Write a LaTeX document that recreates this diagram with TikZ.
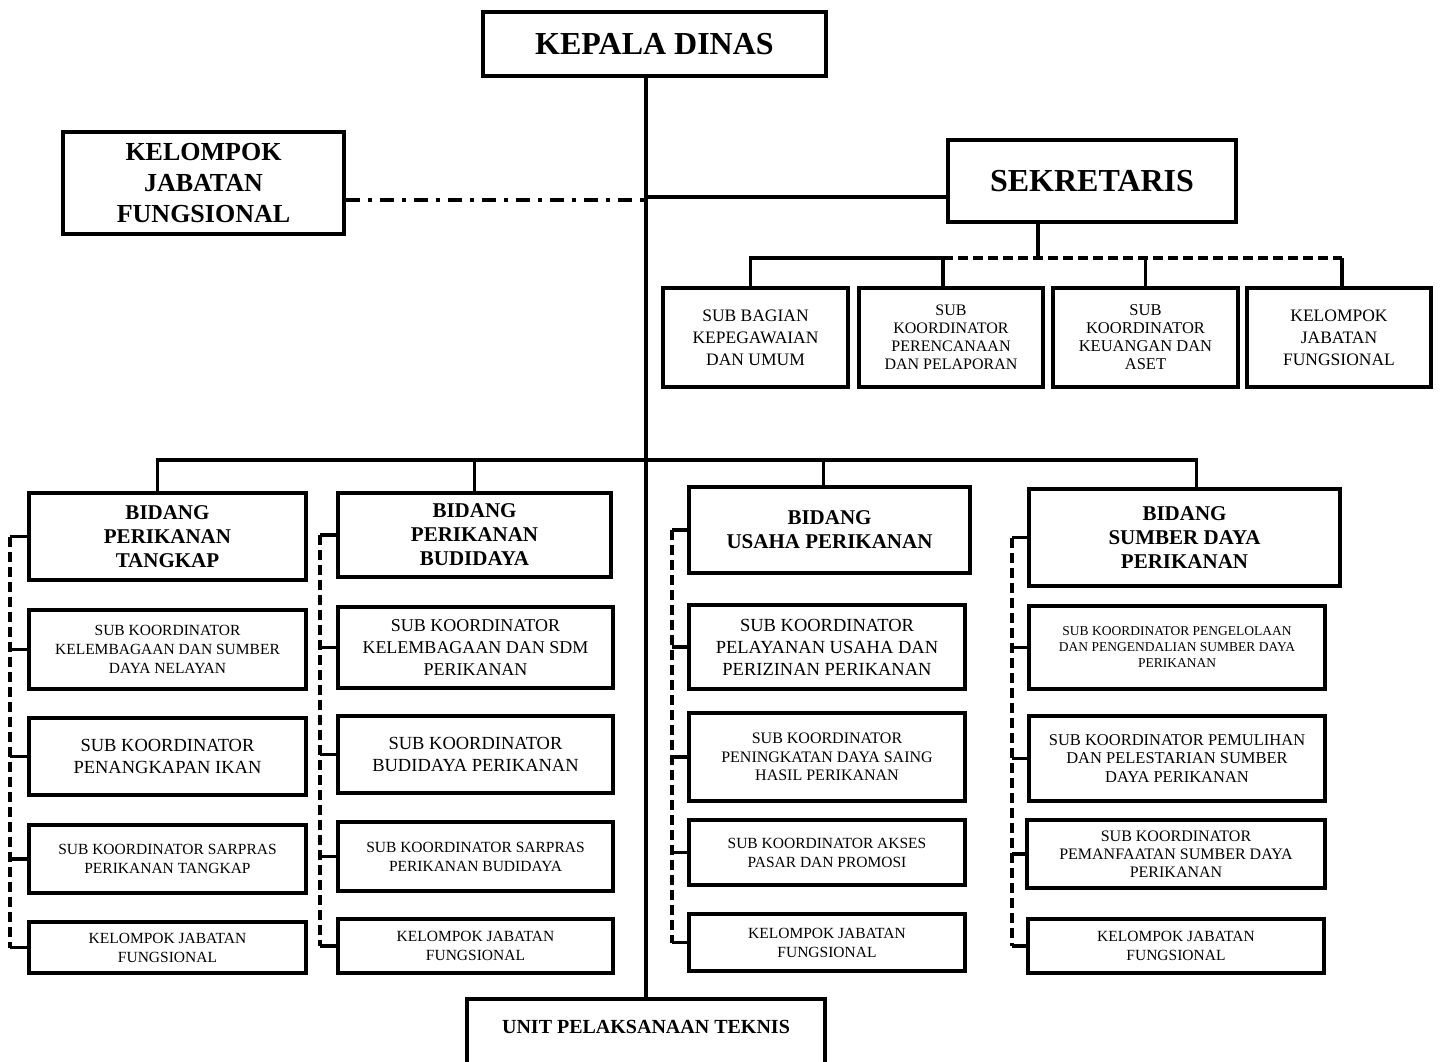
\documentclass[tikz,border=0pt]{standalone}
\usepackage{fontspec}
\setmainfont{Liberation Serif}

\begin{document}
\begin{tikzpicture}[
  x=1pt, y=-1pt,
  box/.style={draw, line width=4.2pt, inner sep=2pt, align=center},
  head/.style={font=\bfseries\fontsize{21}{24}\selectfont},
  sml/.style={font=\fontsize{15.5}{19}\selectfont},
  mid/.style={font=\fontsize{18.5}{22}\selectfont},
  conn/.style={line width=3.5pt},
  rail/.style={line width=3.5pt, dash pattern=on 10pt off 5pt},
  link/.style={line width=3.5pt, dash pattern=on 14pt off 8pt on 4pt off 8pt}
]
  \useasboundingbox (0,0) rectangle (1442,1062);

  % top level
  \node[box, minimum width=343pt, minimum height=64pt, font=\bfseries\fontsize{32}{36}\selectfont] (kd) at (654.5,44) {KEPALA DINAS};
  \node[box, minimum width=281pt, minimum height=102pt, font=\bfseries\fontsize{26}{31}\selectfont] (kjf) at (203.5,183) {KELOMPOK\\JABATAN\\FUNGSIONAL};
  \node[box, minimum width=288pt, minimum height=82pt, font=\bfseries\fontsize{32}{36}\selectfont] (sek) at (1092,181) {SEKRETARIS};
  \node[box, anchor=north, minimum width=358pt, minimum height=90pt, inner sep=0pt, text height=14pt, text depth=36pt, font=\bfseries\fontsize{20}{24}\selectfont] (upt) at (646,997) {UNIT PELAKSANAAN TEKNIS};

  % sekretariat
  \node[box, minimum width=185pt, minimum height=99pt, font=\fontsize{17.5}{22}\selectfont] (sb1) at (755.5,337.5) {SUB BAGIAN\\KEPEGAWAIAN\\DAN UMUM};
  \node[box, minimum width=184pt, minimum height=99pt, font=\fontsize{16}{18}\selectfont] (sb2) at (951,337.5) {SUB\\KOORDINATOR\\PERENCANAAN\\DAN PELAPORAN};
  \node[box, minimum width=185pt, minimum height=99pt, font=\fontsize{16.5}{18}\selectfont] (sb3) at (1145.5,337.5) {SUB\\KOORDINATOR\\KEUANGAN DAN\\ASET};
  \node[box, minimum width=184pt, minimum height=99pt, font=\fontsize{17.5}{22}\selectfont] (sb4) at (1339,337.5) {KELOMPOK\\JABATAN\\FUNGSIONAL};

  % bidang
  \node[box, head, minimum width=277pt, minimum height=87pt] (bd1) at (167.5,536.5) {BIDANG\\PERIKANAN\\TANGKAP};
  \node[box, head, minimum width=273pt, minimum height=84pt] (bd2) at (474.5,535) {BIDANG\\PERIKANAN\\BUDIDAYA};
  \node[box, head, minimum width=281pt, minimum height=86pt] (bd3) at (829.5,530) {BIDANG\\USAHA PERIKANAN};
  \node[box, head, minimum width=311pt, minimum height=97pt] (bd4) at (1184.5,537.5) {BIDANG\\SUMBER DAYA\\PERIKANAN};

  % perikanan tangkap
  \node[box, sml, minimum width=277pt, minimum height=79pt] (s11) at (167.5,649.5) {SUB KOORDINATOR\\KELEMBAGAAN DAN SUMBER\\DAYA NELAYAN};
  \node[box, mid, minimum width=277pt, minimum height=77pt] (s12) at (167.5,756.5) {SUB KOORDINATOR\\PENANGKAPAN IKAN};
  \node[box, sml, minimum width=277pt, minimum height=68pt] (s13) at (167.5,859) {SUB KOORDINATOR SARPRAS\\PERIKANAN TANGKAP};
  \node[box, sml, minimum width=277pt, minimum height=51pt] (kj1) at (167.5,947.5) {KELOMPOK JABATAN\\FUNGSIONAL};

  % perikanan budidaya
  \node[box, font=\fontsize{18}{22}\selectfont, minimum width=275pt, minimum height=81pt] (s21) at (475.5,647.5) {SUB KOORDINATOR\\KELEMBAGAAN DAN SDM\\PERIKANAN};
  \node[box, mid, minimum width=275pt, minimum height=77pt] (s22) at (475.5,754.5) {SUB KOORDINATOR\\BUDIDAYA PERIKANAN};
  \node[box, sml, minimum width=275pt, minimum height=69pt] (s23) at (475.5,856.5) {SUB KOORDINATOR SARPRAS\\PERIKANAN BUDIDAYA};
  \node[box, sml, minimum width=275pt, minimum height=54pt] (kj2) at (475.5,946) {KELOMPOK JABATAN\\FUNGSIONAL};

  % usaha perikanan
  \node[box, mid, minimum width=276pt, minimum height=84pt] (s31) at (827,647) {SUB KOORDINATOR\\PELAYANAN USAHA DAN\\PERIZINAN PERIKANAN};
  \node[box, font=\fontsize{16}{18.5}\selectfont, minimum width=276pt, minimum height=88pt] (s32) at (827,757) {SUB KOORDINATOR\\PENINGKATAN DAYA SAING\\HASIL PERIKANAN};
  \node[box, sml, minimum width=276pt, minimum height=65pt] (s33) at (827,852.5) {SUB KOORDINATOR AKSES\\PASAR DAN PROMOSI};
  \node[box, sml, minimum width=276pt, minimum height=57pt] (kj3) at (827,942.5) {KELOMPOK JABATAN\\FUNGSIONAL};

  % sumber daya perikanan
  \node[box, font=\fontsize{13.5}{16}\selectfont, minimum width=296pt, minimum height=83pt] (s41) at (1177,647.5) {SUB KOORDINATOR PENGELOLAAN\\DAN PENGENDALIAN SUMBER DAYA\\PERIKANAN};
  \node[box, font=\fontsize{16.5}{18.5}\selectfont, minimum width=296pt, minimum height=85pt] (s42) at (1177,758.5) {SUB KOORDINATOR PEMULIHAN\\DAN PELESTARIAN SUMBER\\DAYA PERIKANAN};
  \node[box, font=\fontsize{16}{18}\selectfont, minimum width=298pt, minimum height=68pt] (s43) at (1176,854) {SUB KOORDINATOR\\PEMANFAATAN SUMBER DAYA\\PERIKANAN};
  \node[box, sml, minimum width=296pt, minimum height=54pt] (kj4) at (1176,946) {KELOMPOK JABATAN\\FUNGSIONAL};

  \coordinate (sbar) at (1038,258);
  \coordinate (bbar) at (646,460);
  \coordinate (r1) at (10,500);
  \coordinate (r2) at (320,500);
  \coordinate (r3) at (672,500);
  \coordinate (r4) at (1012,500);

  % main line
  \draw[conn] (kd.south -| upt.north) -- (upt.north);
  \draw[conn] ([yshift=-16pt]sek.west -| upt.north) -- ([yshift=-16pt]sek.west);
  \draw[link] ([yshift=-17pt]kjf.east) -- ([yshift=-17pt]kjf.east -| upt.north);

  % under sekretaris
  \draw[conn] (sek.south -| sbar) -- (sbar);
  \draw[conn] ([xshift=-5pt]sb1.north) |- ([xshift=-8pt]sbar -| sb2.north) -- ([xshift=-8pt]sb2.north);
  \draw[rail] ([xshift=-8pt]sbar -| sb2.north) -- ([xshift=3pt]sbar -| sb4.north);
  \draw[conn] (sbar -| sb3.north) -- (sb3.north);
  \draw[conn] ([xshift=3pt]sbar -| sb4.north) -- ([xshift=3pt]sb4.north);

  % to bidang
  \draw[conn] ([xshift=-10pt]bd1.north) |- (bbar) -| ([xshift=12pt]bd4.north);
  \draw[conn] (bbar -| bd2.north) -- (bd2.north);
  \draw[conn] ([xshift=-6pt]bbar -| bd3.north) -- ([xshift=-6pt]bd3.north);

  % dashed rails
  \draw[rail] (bd1.west -| r1) -- (kj1.west -| r1);
  \draw[conn] (bd1.west) -- (bd1.west -| r1) (s11.west) -- (s11.west -| r1)
    (s12.west) -- (s12.west -| r1) (s13.west) -- (s13.west -| r1) (kj1.west) -- (kj1.west -| r1);
  \draw[rail] (bd2.west -| r2) -- (kj2.west -| r2);
  \draw[conn] (bd2.west) -- (bd2.west -| r2) (s21.west) -- (s21.west -| r2)
    (s22.west) -- (s22.west -| r2) (s23.west) -- (s23.west -| r2) (kj2.west) -- (kj2.west -| r2);
  \draw[rail] (bd3.west -| r3) -- (kj3.west -| r3);
  \draw[conn] (bd3.west) -- (bd3.west -| r3) (s31.west) -- (s31.west -| r3)
    (s32.west) -- (s32.west -| r3) (s33.west) -- (s33.west -| r3) (kj3.west) -- (kj3.west -| r3);
  \draw[rail] (bd4.west -| r4) -- (kj4.west -| r4);
  \draw[conn] (bd4.west) -- (bd4.west -| r4) (s41.west) -- (s41.west -| r4)
    (s42.west) -- (s42.west -| r4) (s43.west) -- (s43.west -| r4) (kj4.west) -- (kj4.west -| r4);
\end{tikzpicture}
\end{document}
